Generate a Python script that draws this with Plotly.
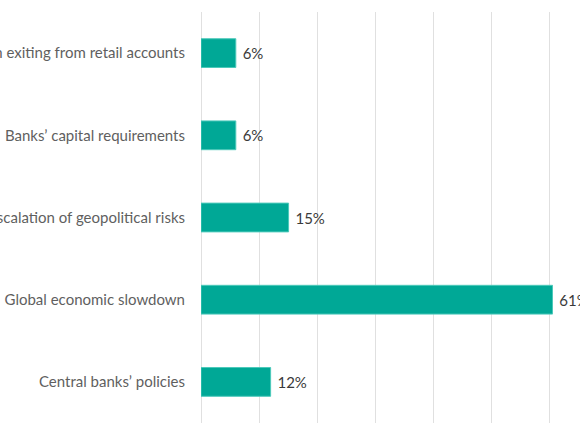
import plotly.graph_objects as go

categories = [
    "Liquidity drain exiting from retail accounts",
    "Banks\u2019 capital requirements",
    "Escalation of geopolitical risks",
    "Global economic slowdown",
    "Central banks\u2019 policies",
]
values = [6.0, 6.0, 15.1, 60.6, 12.0]
labels = [f" {round(v)}%" for v in values]
x_ticks = [0, 10, 20, 30, 40, 50, 60]

fig = go.Figure(
    go.Bar(
        x=values,
        y=categories,
        orientation="h",
        marker=dict(color="#00A896", line=dict(color="#4CC9BA", width=1)),
        text=labels,
        textposition="outside",
        textfont=dict(family="Lato", size=15, color="#3A3A3A"),
        cliponaxis=False,
        width=0.35,
    )
)

fig.update_layout(
    width=580,
    height=435,
    margin=dict(l=201, r=0, t=12, b=12),
    paper_bgcolor="white",
    plot_bgcolor="white",
    showlegend=False,
    font=dict(family="Lato", size=15, color="#595959"),
    xaxis=dict(
        range=[0, 65.34],
        tickvals=x_ticks,
        showticklabels=False,
        showgrid=True,
        gridcolor="#E0E0E0",
        gridwidth=1,
        zeroline=True,
        zerolinecolor="#E0E0E0",
        zerolinewidth=1,
        showline=False,
        fixedrange=True,
    ),
    yaxis=dict(
        autorange="reversed",
        showgrid=False,
        showline=False,
        automargin=False,
        ticks="outside",
        ticklen=12,
        tickcolor="rgba(0,0,0,0)",
        tickfont=dict(family="Lato", size=15, color="#5F5F5F"),
        fixedrange=True,
    ),
)

fig.write_html(
    "out.html",
    config={"displayModeBar": False, "staticPlot": True},
    post_script="document.body.style.margin='0';document.body.style.overflow='hidden';",
)
